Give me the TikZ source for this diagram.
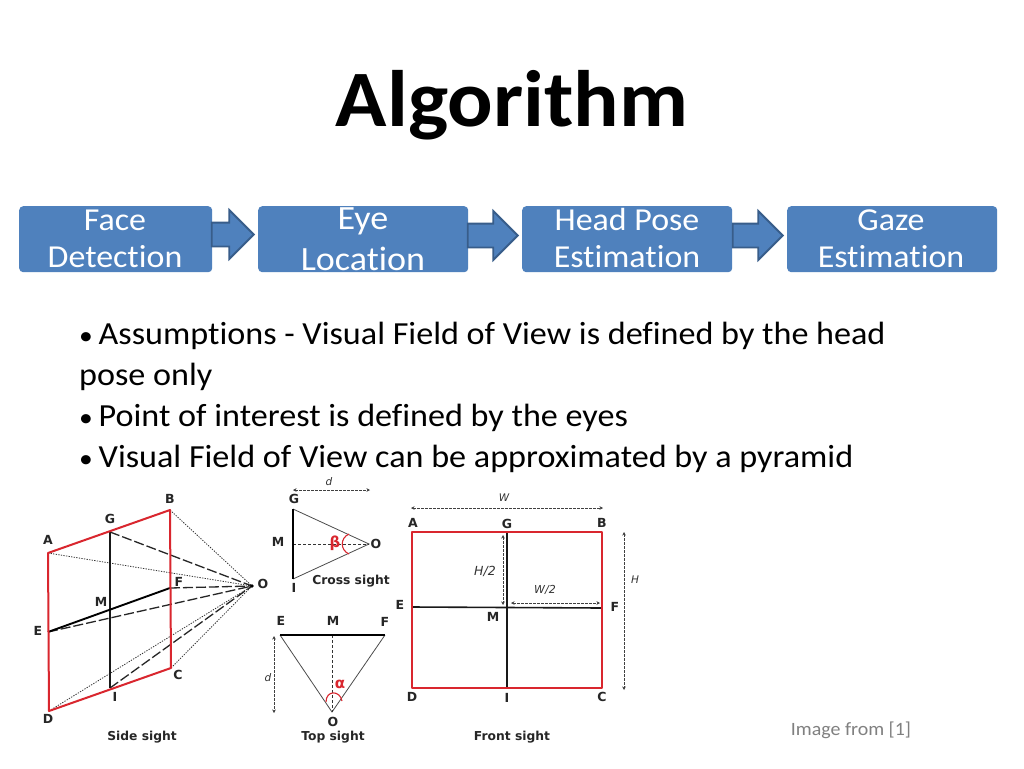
\documentclass[tikz,border=0pt]{standalone}
\usepackage{fontspec}
\setmainfont[FakeStretch=1.06,Ligatures=NoCommon]{Carlito}
\newfontfamily\figfont{DejaVu Sans}
\usetikzlibrary{shapes.arrows,arrows.meta}
\definecolor{boxblue}{HTML}{4F81BD}
\definecolor{boxedge}{HTML}{385D8A}
\definecolor{figred}{HTML}{D9262E}
\definecolor{figgray}{HTML}{333333}
\newcommand{\bul}{\makebox[19.5pt][l]{\fontsize{26}{26}\selectfont•}}
\tikzset{
  x=1pt,y=-1pt,
  stepbox/.style={fill=boxblue,draw=none,rounded corners=4pt,anchor=north west},
  steptext/.style={text=white,font=\fontsize{32}{32}\selectfont,anchor=base,inner sep=0pt},
  steptextbig/.style={steptext,font=\fontsize{34}{34}\selectfont},
  flowarrow/.style={single arrow,draw=boxedge,line width=1.8pt,fill=boxblue,inner sep=0pt,anchor=tip,
    single arrow head extend=12.5pt,shape border rotate=0},
  bodytext/.style={anchor=base west,inner sep=0pt,font=\fontsize{32.2}{32}\selectfont,text=black},
  lab/.style={inner sep=0pt,font=\figfont\bfseries\fontsize{12.5}{12.5}\selectfont,text=black!85},
  figcaption/.style={inner sep=0pt,font=\figfont\bfseries\fontsize{12.3}{13}\selectfont,text=black!85},
  dimtext/.style={inner sep=0pt,font=\figfont\itshape\fontsize{10.5}{11}\selectfont,text=figgray},
  redline/.style={draw=figred,line width=2pt,line join=round},
  blackline/.style={draw=black!90,line width=1.6pt},
  thickline/.style={draw=black,line width=2.4pt},
  longdash/.style={draw=black!85,line width=1.3pt,dash pattern=on 10pt off 3pt},
  dotline/.style={draw=black!80,line width=0.8pt,dash pattern=on 1.3pt off 1.3pt},
  thinline/.style={draw=black!70,line width=0.8pt},
  shortdash/.style={draw=black!80,line width=0.9pt,dash pattern=on 3pt off 2pt},
  dimline/.style={draw=black!75,line width=0.9pt,dash pattern=on 2.5pt off 1.5pt,{Stealth[length=3.5pt,width=3.5pt]}-{Stealth[length=3.5pt,width=3.5pt]}},
  redarc/.style={draw=figred,line width=1.1pt},
}
\begin{document}
\begin{tikzpicture}
\useasboundingbox (0,0) rectangle (1024,768);
\fill[white] (0,0) rectangle (1024,768);

% title
\node[inner sep=0pt,anchor=base,font=\bfseries\fontsize{80}{80}\selectfont] (title) at (512,126) {Algorithm};

% flow boxes
\node[stepbox,minimum width=193pt,minimum height=66pt] (b1) at (19,206) {};
\node[stepbox,minimum width=210pt,minimum height=66pt] (b2) at (258,206) {};
\node[stepbox,minimum width=210pt,minimum height=66pt] (b3) at (522,206) {};
\node[stepbox,minimum width=210pt,minimum height=66pt] (b4) at (787,206) {};
\node[steptext] (t1a) at (115,230) {Face};
\node[steptext] (t1b) at (115,267) {Detection};
\node[steptextbig] (t2a) at (363,229) {Eye};
\node[steptextbig] (t2b) at (363,270) {Location};
\node[steptext] (t3a) at (627,230) {Head Pose};
\node[steptext] (t3b) at (627,267) {Estimation};
\node[steptext] (t4a) at (891,230) {Gaze};
\node[steptext] (t4b) at (891,267) {Estimation};
\node[flowarrow,minimum height=42pt] (a1) at (255,234.5) {\rule{0pt}{22pt}};
\node[flowarrow,minimum height=50pt] (a2) at (519,235.5) {\rule{0pt}{22pt}};
\node[flowarrow,minimum height=50pt] (a3) at (784,235.5) {\rule{0pt}{22pt}};

% bullets
\node[bodytext] (l1) at (79,344) {\bul Assumptions - Visual Field of View is defined by the head};
\node[bodytext] (l2) at (79,385) {pose only};
\node[bodytext] (l3) at (79,426) {\bul Point of interest is defined by the eyes};
\node[bodytext] (l4) at (79,467) {\bul Visual Field of View can be approximated by a pyramid};

% side sight
\coordinate (sA) at (48,553);
\coordinate (sB) at (170,510);
\coordinate (sC) at (171,668);
\coordinate (sD) at (49,711);
\coordinate (sG) at (110,532);
\coordinate (sI) at (110,688);
\coordinate (sE) at (48,632);
\coordinate (sF) at (170,588);
\coordinate (sO) at (252,586);
\foreach \p in {A,B,C,D} \draw[dotline] (s\p) -- (sO);
\foreach \p in {G,E,F,I} \draw[longdash] (s\p) -- (sO);
\draw[blackline] (sG) -- (sI);
\draw[thickline,line width=1.9pt] (sE) -- (sF);
\draw[redline] (sA) -- (sB) -- (sC) -- (sD) -- cycle;
\fill[black] (sO) circle (1.8pt);
\node[lab] (nsA) at (48,540) {A};
\node[lab] (nsB) at (170,499) {B};
\node[lab] (nsG) at (110,519) {G};
\node[lab] (nsM) at (101,602) {M};
\node[lab] (nsE) at (38,631) {E};
\node[lab] (nsF) at (179,582) {F};
\node[lab] (nsO) at (263,584) {O};
\node[lab] (nsC) at (178,675) {C};
\node[lab] (nsI) at (115,697) {I};
\node[lab] (nsD) at (48,719) {D};
\node[figcaption] (cs) at (142,737) {Side sight};

% cross sight
\coordinate (cG) at (293,509);
\coordinate (cI) at (293,579);
\coordinate (cM) at (293,544);
\coordinate (cO) at (369,544);
\coordinate (cd1) at (293,490);
\coordinate (cd2) at (370,490);
\draw[thinline] (cG) -- (cO) -- (cI);
\draw[shortdash] (cM) -- (cO);
\draw[thickline] (cG) -- (cI);
\draw[dimline] (cd1) -- (cd2);
\draw[redarc] (349,534) .. controls (340,538) and (340,550) .. (349,554);
\node[dimtext] (ncd) at (329,482) {d};
\node[lab] (ncG) at (294,499) {G};
\node[lab] (ncM) at (278,542) {M};
\node[lab] (ncI) at (294,588) {I};
\node[lab] (ncO) at (376,544) {O};
\node[inner sep=0pt,font=\figfont\bfseries\fontsize{15}{15}\selectfont,text=figred] (ncb) at (335,543) {β};
\node[figcaption] (cc) at (351,581) {Cross sight};

% top sight
\coordinate (tE) at (280,635);
\coordinate (tF) at (385,635);
\coordinate (tM) at (332,635);
\coordinate (tO) at (332,712);
\coordinate (td1) at (274,636);
\coordinate (td2) at (274,713);
\draw[thinline] (tE) -- (tO) -- (tF);
\draw[shortdash] (tM) -- (tO);
\draw[thickline] (tE) -- (tF);
\draw[dimline] (td1) -- (td2);
\draw[redarc] (326,702) .. controls (326,690) and (340,690) .. (342,701);
\node[dimtext] (ntd) at (268,678) {d};
\node[lab] (ntE) at (281,621) {E};
\node[lab] (ntM) at (333,621) {M};
\node[lab] (ntF) at (385,622) {F};
\node[lab] (ntO) at (333,722) {O};
\node[inner sep=0pt,font=\figfont\bfseries\fontsize{15}{15}\selectfont,text=figred] (nta) at (340,684) {α};
\node[figcaption] (ct) at (333,737) {Top sight};

% front sight
\coordinate (fA) at (412,532);
\coordinate (fB) at (602,532);
\coordinate (fC) at (602,688);
\coordinate (fD) at (412,688);
\coordinate (fG) at (507,532);
\coordinate (fI) at (507,688);
\coordinate (fE) at (412,607);
\coordinate (fF) at (602,608);
\coordinate (w1) at (411,508);
\coordinate (w2) at (603,508);
\coordinate (h1) at (624,532);
\coordinate (h2) at (624,690);
\coordinate (hh1) at (503,535);
\coordinate (hh2) at (503,605);
\coordinate (ww1) at (511,603);
\coordinate (ww2) at (600,603);
\draw[blackline] (fG) -- (fI);
\draw[blackline] (fE) -- (fF);
\draw[redline] (fA) -- (fB) -- (fC) -- (fD) -- cycle;
\draw[dimline] (w1) -- (w2);
\draw[dimline] (h1) -- (h2);
\draw[dimline] (hh1) -- (hh2);
\draw[dimline] (ww1) -- (ww2);
\node[dimtext] (nW) at (504,498) {W};
\node[dimtext] (nH) at (635,580) {H};
\node[dimtext,font=\figfont\itshape\fontsize{12.5}{12.5}\selectfont] (nH2) at (485,571) {H/2};
\node[dimtext,font=\figfont\itshape\fontsize{11}{11}\selectfont] (nW2) at (545,590) {W/2};
\node[lab] (nfA) at (413,523) {A};
\node[lab] (nfG) at (507,524) {G};
\node[lab] (nfB) at (602,523) {B};
\node[lab] (nfE) at (400,605) {E};
\node[lab] (nfF) at (615,607) {F};
\node[lab] (nfM) at (493,617) {M};
\node[lab] (nfD) at (412,697) {D};
\node[lab] (nfI) at (507,698) {I};
\node[lab] (nfC) at (602,697) {C};
\node[figcaption] (cf) at (512,737) {Front sight};

\node[inner sep=0pt,anchor=base,font=\fontsize{18.8}{19}\selectfont,text=black!50] (src) at (851,735) {Image from [1]};
\end{tikzpicture}
\end{document}
